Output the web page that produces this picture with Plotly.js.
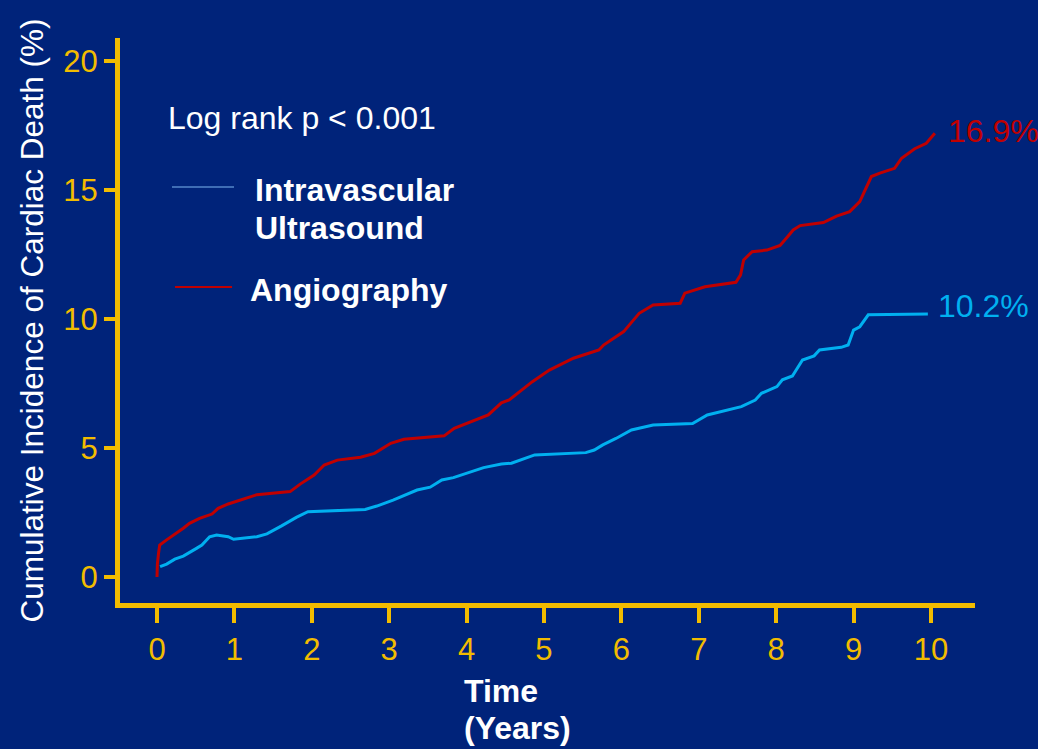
<!DOCTYPE html>
<html>
<head>
<meta charset="utf-8">
<script src="https://cdn.plot.ly/plotly-3.0.1.min.js"></script>
<style>html,body{margin:0;padding:0;background:#00237a;}#chart{width:1038px;height:749px;}</style>
</head>
<body>
<div id="chart"></div>
<script>
// ---- data ----
const ivusYears = [0.04,0.125,0.23,0.34,0.51,0.58,0.68,0.77,0.92,0.99,1.29,1.42,1.61,1.80,1.95,2.28,2.69,2.84,3.05,3.36,3.53,3.68,3.83,4.22,4.45,4.58,4.88,5.54,5.65,5.76,5.93,6.13,6.41,6.92,7.11,7.55,7.73,7.81,8.01,8.08,8.21,8.34,8.49,8.56,8.84,8.93,9.00,9.08,9.19,9.96];
const ivusPct   = [0.40,0.50,0.69,0.81,1.11,1.24,1.56,1.63,1.56,1.46,1.56,1.67,1.98,2.31,2.53,2.57,2.62,2.75,2.98,3.37,3.48,3.76,3.85,4.24,4.38,4.41,4.73,4.82,4.92,5.12,5.37,5.70,5.89,5.95,6.28,6.60,6.86,7.12,7.38,7.64,7.79,8.41,8.57,8.80,8.90,8.99,9.57,9.70,10.16,10.19];
const angioYears = [0,0.005,0.02,0.035,0.12,0.25,0.34,0.42,0.55,0.71,0.79,0.92,1.12,1.29,1.72,1.85,2.03,2.16,2.33,2.63,2.81,3.02,3.19,3.71,3.84,4.06,4.28,4.45,4.55,4.85,5.07,5.38,5.71,5.77,6.03,6.12,6.23,6.41,6.76,6.82,7.08,7.48,7.54,7.58,7.69,7.88,8.05,8.15,8.22,8.31,8.61,8.78,8.95,9.08,9.15,9.23,9.34,9.53,9.62,9.79,9.94,10.05];
const angioPct   = [0,0.5,0.92,1.24,1.43,1.69,1.89,2.08,2.27,2.44,2.66,2.83,3.02,3.19,3.31,3.6,3.95,4.34,4.53,4.64,4.79,5.18,5.34,5.47,5.76,6.02,6.28,6.75,6.86,7.57,8.02,8.48,8.80,8.99,9.51,9.83,10.22,10.54,10.61,11.0,11.25,11.42,11.71,12.29,12.61,12.67,12.85,13.2,13.45,13.62,13.74,13.99,14.16,14.55,15.0,15.52,15.65,15.84,16.23,16.6,16.81,17.2];
const seriesNames = ["Intravascular Ultrasound", "Angiography"];
const legendLines = [["Intravascular", "Ultrasound"], ["Angiography"]];
const endLabels = ["10.2%", "16.9%"];
const xTitleLines = ["Time", "(Years)"];
const xTicks = [0,1,2,3,4,5,6,7,8,9,10];
const yTicks = [0,5,10,15,20];

// ---- styling ----
const BG = '#00237a', YEL = '#f2bc00', RED = '#c00000', CYAN = '#00b0f0';
const FONT = 'Liberation Sans, Arial, sans-serif';
const FS = 32;
const PL = 120, PT = 38, PW = 855, PH = 565;
const px = v => (v - PL) / PW;          // pixel x -> paper
const py = v => (PT + PH - v) / PH;     // pixel y -> paper

const traces = [
  {x: ivusYears, y: ivusPct, name: seriesNames[0], type: 'scatter', mode: 'lines',
   line: {color: CYAN, width: 3}, hoverinfo: 'x+y'},
  {x: angioYears, y: angioPct, name: seriesNames[1], type: 'scatter', mode: 'lines',
   line: {color: RED, width: 3}, hoverinfo: 'x+y'}
];

function label(x, y, text, color, bold) {
  return {xref: 'paper', yref: 'paper', x: px(x), y: py(y), xanchor: 'left', yanchor: 'middle',
          text: bold ? '<b>' + text + '</b>' : text, showarrow: false,
          font: {family: FONT, color: color, size: FS}};
}

const layout = {
  width: 1038, height: 749,
  paper_bgcolor: BG, plot_bgcolor: BG,
  margin: {l: PL, r: 1038 - PL - PW, t: PT, b: 749 - PT - PH, pad: 0},
  showlegend: false,
  font: {family: FONT, color: '#ffffff', size: FS},
  xaxis: {
    range: [-0.478, 10.569], tickvals: xTicks, ticktext: xTicks.map(String),
    showgrid: false, zeroline: false, showline: true, linecolor: YEL, linewidth: 5,
    ticks: 'outside', ticklen: 15, tickwidth: 4, tickcolor: YEL,
    tickfont: {family: FONT, color: YEL, size: 31}, fixedrange: true
  },
  yaxis: {
    range: [-1.008, 20.89], tickvals: yTicks, ticktext: yTicks.map(String),
    showgrid: false, zeroline: false, showline: true, linecolor: YEL, linewidth: 5,
    ticks: 'outside', ticklen: 11, tickwidth: 4, tickcolor: YEL,
    tickfont: {family: FONT, color: YEL, size: 31}, fixedrange: true,
    title: {text: 'Cumulative Incidence of Cardiac Death (%)', standoff: 12,
            font: {family: FONT, color: '#ffffff', size: 31.5}}
  },
  shapes: [
    {type: 'line', xref: 'paper', yref: 'paper', x0: px(172), x1: px(234),
     y0: py(187), y1: py(187), line: {color: '#3f6db5', width: 2}},
    {type: 'line', xref: 'paper', yref: 'paper', x0: px(175), x1: px(232),
     y0: py(287), y1: py(287), line: {color: RED, width: 2}}
  ],
  annotations: [
    label(166, 118, 'Log rank p &lt; 0.001', '#ffffff', false),
    label(253, 190, legendLines[0][0], '#ffffff', true),
    label(253, 228, legendLines[0][1], '#ffffff', true),
    label(248, 290, legendLines[1][0], '#ffffff', true),
    label(462, 691, xTitleLines[0], '#ffffff', true),
    label(462, 728, xTitleLines[1], '#ffffff', true),
    {xref: 'x', yref: 'y', x: 10.2, y: 17.3, xanchor: 'left', yanchor: 'middle',
     text: endLabels[1], showarrow: false, font: {family: FONT, color: RED, size: FS}},
    {xref: 'x', yref: 'y', x: 10.06, y: 10.5, xanchor: 'left', yanchor: 'middle',
     text: endLabels[0], showarrow: false, font: {family: FONT, color: CYAN, size: FS}}
  ]
};

Plotly.newPlot('chart', traces, layout, {displayModeBar: false, staticPlot: true});
</script>
</body>
</html>
